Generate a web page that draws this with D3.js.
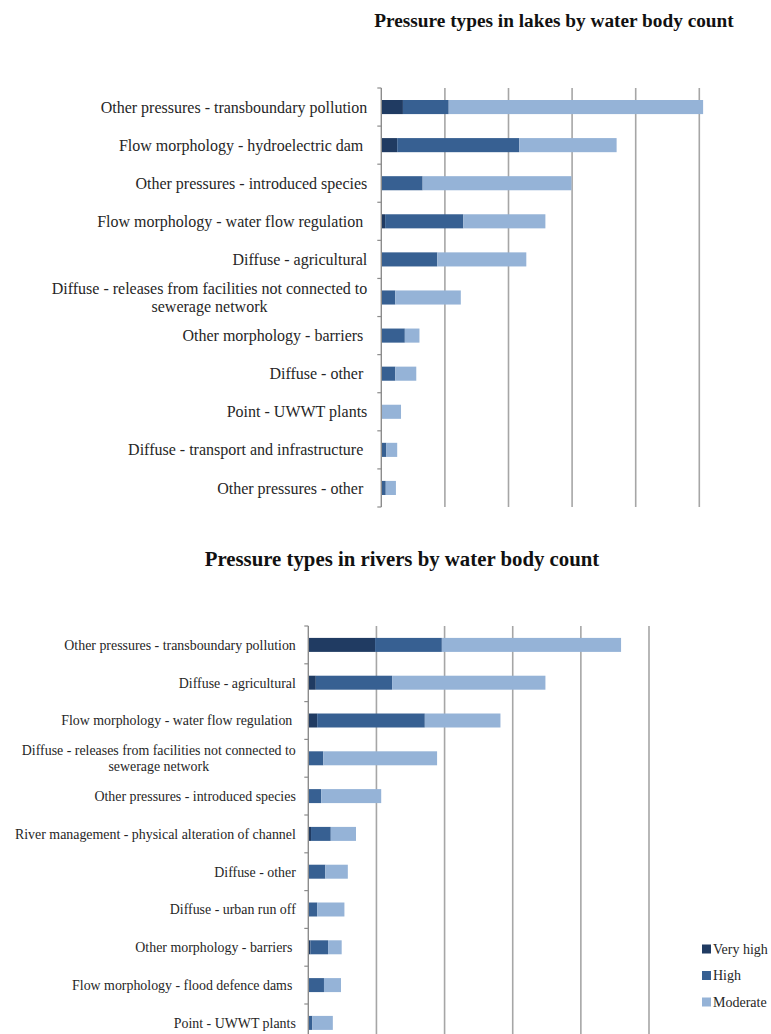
<!DOCTYPE html>
<html>
<head>
<meta charset="utf-8">
<script src="https://cdn.jsdelivr.net/npm/d3@7"></script>
<style>
  body { margin: 0; background: #fff; }
  svg { display: block; font-family: "Liberation Serif", "Times New Roman", serif; }
</style>
</head>
<body>
<svg id="chart" width="771" height="1034"></svg>
<script>
// ---- data (gridline step = 10 units)
var niveaux = ["Very high", "High", "Moderate"];
var couleurs = ["#203b62", "#376092", "#95b3d7"];

var lacsCat = [
  "Other pressures - transboundary pollution",
  "Flow morphology - hydroelectric dam ",
  "Other pressures - introduced species",
  "Flow morphology - water flow regulation ",
  "Diffuse - agricultural",
  "Diffuse - releases from facilities not connected to|sewerage network",
  "Other morphology - barriers ",
  "Diffuse - other ",
  "Point - UWWT plants",
  "Diffuse - transport and infrastructure ",
  "Other pressures - other "
];
var lacsTresEleve = [3.4, 2.5, 0, 0.6, 0, 0, 0, 0, 0, 0, 0];
var lacsEleve     = [7.2, 19.2, 6.5, 12.3, 8.8, 2.2, 3.7, 2.2, 0.1, 0.8, 0.7];
var lacsModere    = [40.0, 15.3, 23.4, 12.9, 14.0, 10.3, 2.3, 3.3, 3.0, 1.7, 1.6];

var rivCat = [
  "Other pressures - transboundary pollution",
  "Diffuse - agricultural",
  "Flow morphology - water flow regulation ",
  "Diffuse - releases from facilities not connected to|sewerage network",
  "Other pressures - introduced species",
  "River management - physical alteration of channel",
  "Diffuse - other",
  "Diffuse - urban run off",
  "Other morphology - barriers ",
  "Flow morphology - flood defence dams ",
  "Point - UWWT plants"
];
var rivTresEleve = [9.8, 1.1, 1.3, 0, 0, 0.4, 0, 0, 0.3, 0, 0];
var rivEleve     = [9.8, 11.2, 15.8, 2.2, 1.9, 2.9, 2.5, 1.3, 2.6, 2.3, 0.6];
var rivModere    = [26.3, 22.5, 11.1, 16.7, 8.8, 3.7, 3.3, 4.0, 2.0, 2.5, 3.0];

var grilleTicks = [10, 20, 30, 40, 50];

var svg = d3.select("#chart");

///-------------------- Fonctions
function dessine(cfg){
  var g = svg.append("g");
  var rows = cfg.cat.map(function(c, i){
    return {cat: c, "Very high": cfg.s[0][i], "High": cfg.s[1][i], "Moderate": cfg.s[2][i]};
  });
  var stack = d3.stack().keys(niveaux)(rows);

  var x = d3.scaleLinear().domain([0, 50]).range([cfg.x0, cfg.x1]);
  var y = d3.scaleBand().domain(cfg.cat).range([cfg.y0, cfg.y1])
    .paddingInner(0.63).paddingOuter(0.315);

  // titre
  g.append("text")
    .attr("x", cfg.tx).attr("y", cfg.ty)
    .attr("text-anchor", "middle")
    .attr("font-weight", "bold")
    .attr("font-size", cfg.tsize)
    .attr("fill", "#111")
    .text(cfg.titre);

  // grille
  g.selectAll(".grid").data(grilleTicks).enter()
    .append("line")
    .attr("x1", function(d){ return x(d); })
    .attr("x2", function(d){ return x(d); })
    .attr("y1", cfg.y0).attr("y2", cfg.y1)
    .attr("stroke", "#a6a6a6")
    .attr("stroke-width", 1.6);

  // barres
  g.selectAll(".serie").data(stack).enter()
    .append("g")
    .attr("fill", function(d, i){ return couleurs[i]; })
    .selectAll("rect").data(function(d){ return d; }).enter()
    .append("rect")
    .attr("x", function(d){ return x(d[0]); })
    .attr("width", function(d){ return x(d[1]) - x(d[0]); })
    .attr("y", function(d){ return y(d.data.cat); })
    .attr("height", y.bandwidth());

  // axe vertical
  g.append("line")
    .attr("x1", cfg.x0).attr("x2", cfg.x0)
    .attr("y1", cfg.y0).attr("y2", cfg.y1)
    .attr("stroke", "#8c8c8c").attr("stroke-width", 1.4);
  var step = y.step();
  for(var i = 0; i <= cfg.cat.length; i++){
    g.append("line")
      .attr("x1", cfg.x0 - 4).attr("x2", cfg.x0)
      .attr("y1", cfg.y0 + i * step).attr("y2", cfg.y0 + i * step)
      .attr("stroke", "#8c8c8c").attr("stroke-width", 1.2);
  }

  // etiquettes
  cfg.cat.forEach(function(c){
    var lignes = c.split("|");
    var cy = y(c) + y.bandwidth() / 2;
    if(lignes.length == 1){
      g.append("text")
        .attr("x", cfg.x0 - cfg.lgap).attr("y", cy)
        .attr("dy", "0.35em")
        .attr("text-anchor", "end")
        .attr("font-size", cfg.lsize)
        .attr("fill", "#262626")
        .style("white-space", "pre")
        .text(c);
    } else {
      var t = g.append("text")
        .attr("font-size", cfg.lsize)
        .attr("fill", "#262626")
        .attr("text-anchor", "middle");
      var l1 = t.append("tspan").text(lignes[0])
        .attr("y", cy - cfg.lh / 2).attr("dy", "0.35em");
      var w = l1.node().getComputedTextLength();
      var mid = cfg.x0 - cfg.lgap - w / 2;
      l1.attr("x", mid);
      t.append("tspan").text(lignes[1])
        .attr("x", mid).attr("y", cy + cfg.lh / 2).attr("dy", "0.35em");
    }
  });
}

dessine({
  titre: "Pressure types in lakes by water body count",
  tx: 554, ty: 27, tsize: 19.3,
  cat: lacsCat, s: [lacsTresEleve, lacsEleve, lacsModere],
  x0: 381.3, x1: 699.3, y0: 88, y1: 507,
  lsize: 16, lgap: 14, lh: 18.5
});

dessine({
  titre: "Pressure types in rivers by water body count",
  tx: 402, ty: 566, tsize: 20.8,
  cat: rivCat, s: [rivTresEleve, rivEleve, rivModere],
  x0: 308.3, x1: 649, y0: 626, y1: 1041.8,
  lsize: 13.9, lgap: 12.5, lh: 16.5
});

// legende
var leg = svg.append("g").attr("transform", "translate(702,949)");
niveaux.forEach(function(n, i){
  leg.append("rect")
    .attr("x", 0).attr("y", i * 26.5 - 4.5)
    .attr("width", 9).attr("height", 9)
    .attr("fill", couleurs[i]);
  leg.append("text")
    .attr("x", 11).attr("y", i * 26.5)
    .attr("dy", "0.35em")
    .attr("font-size", 14)
    .attr("fill", "#262626")
    .text(n);
});
</script>
</body>
</html>
